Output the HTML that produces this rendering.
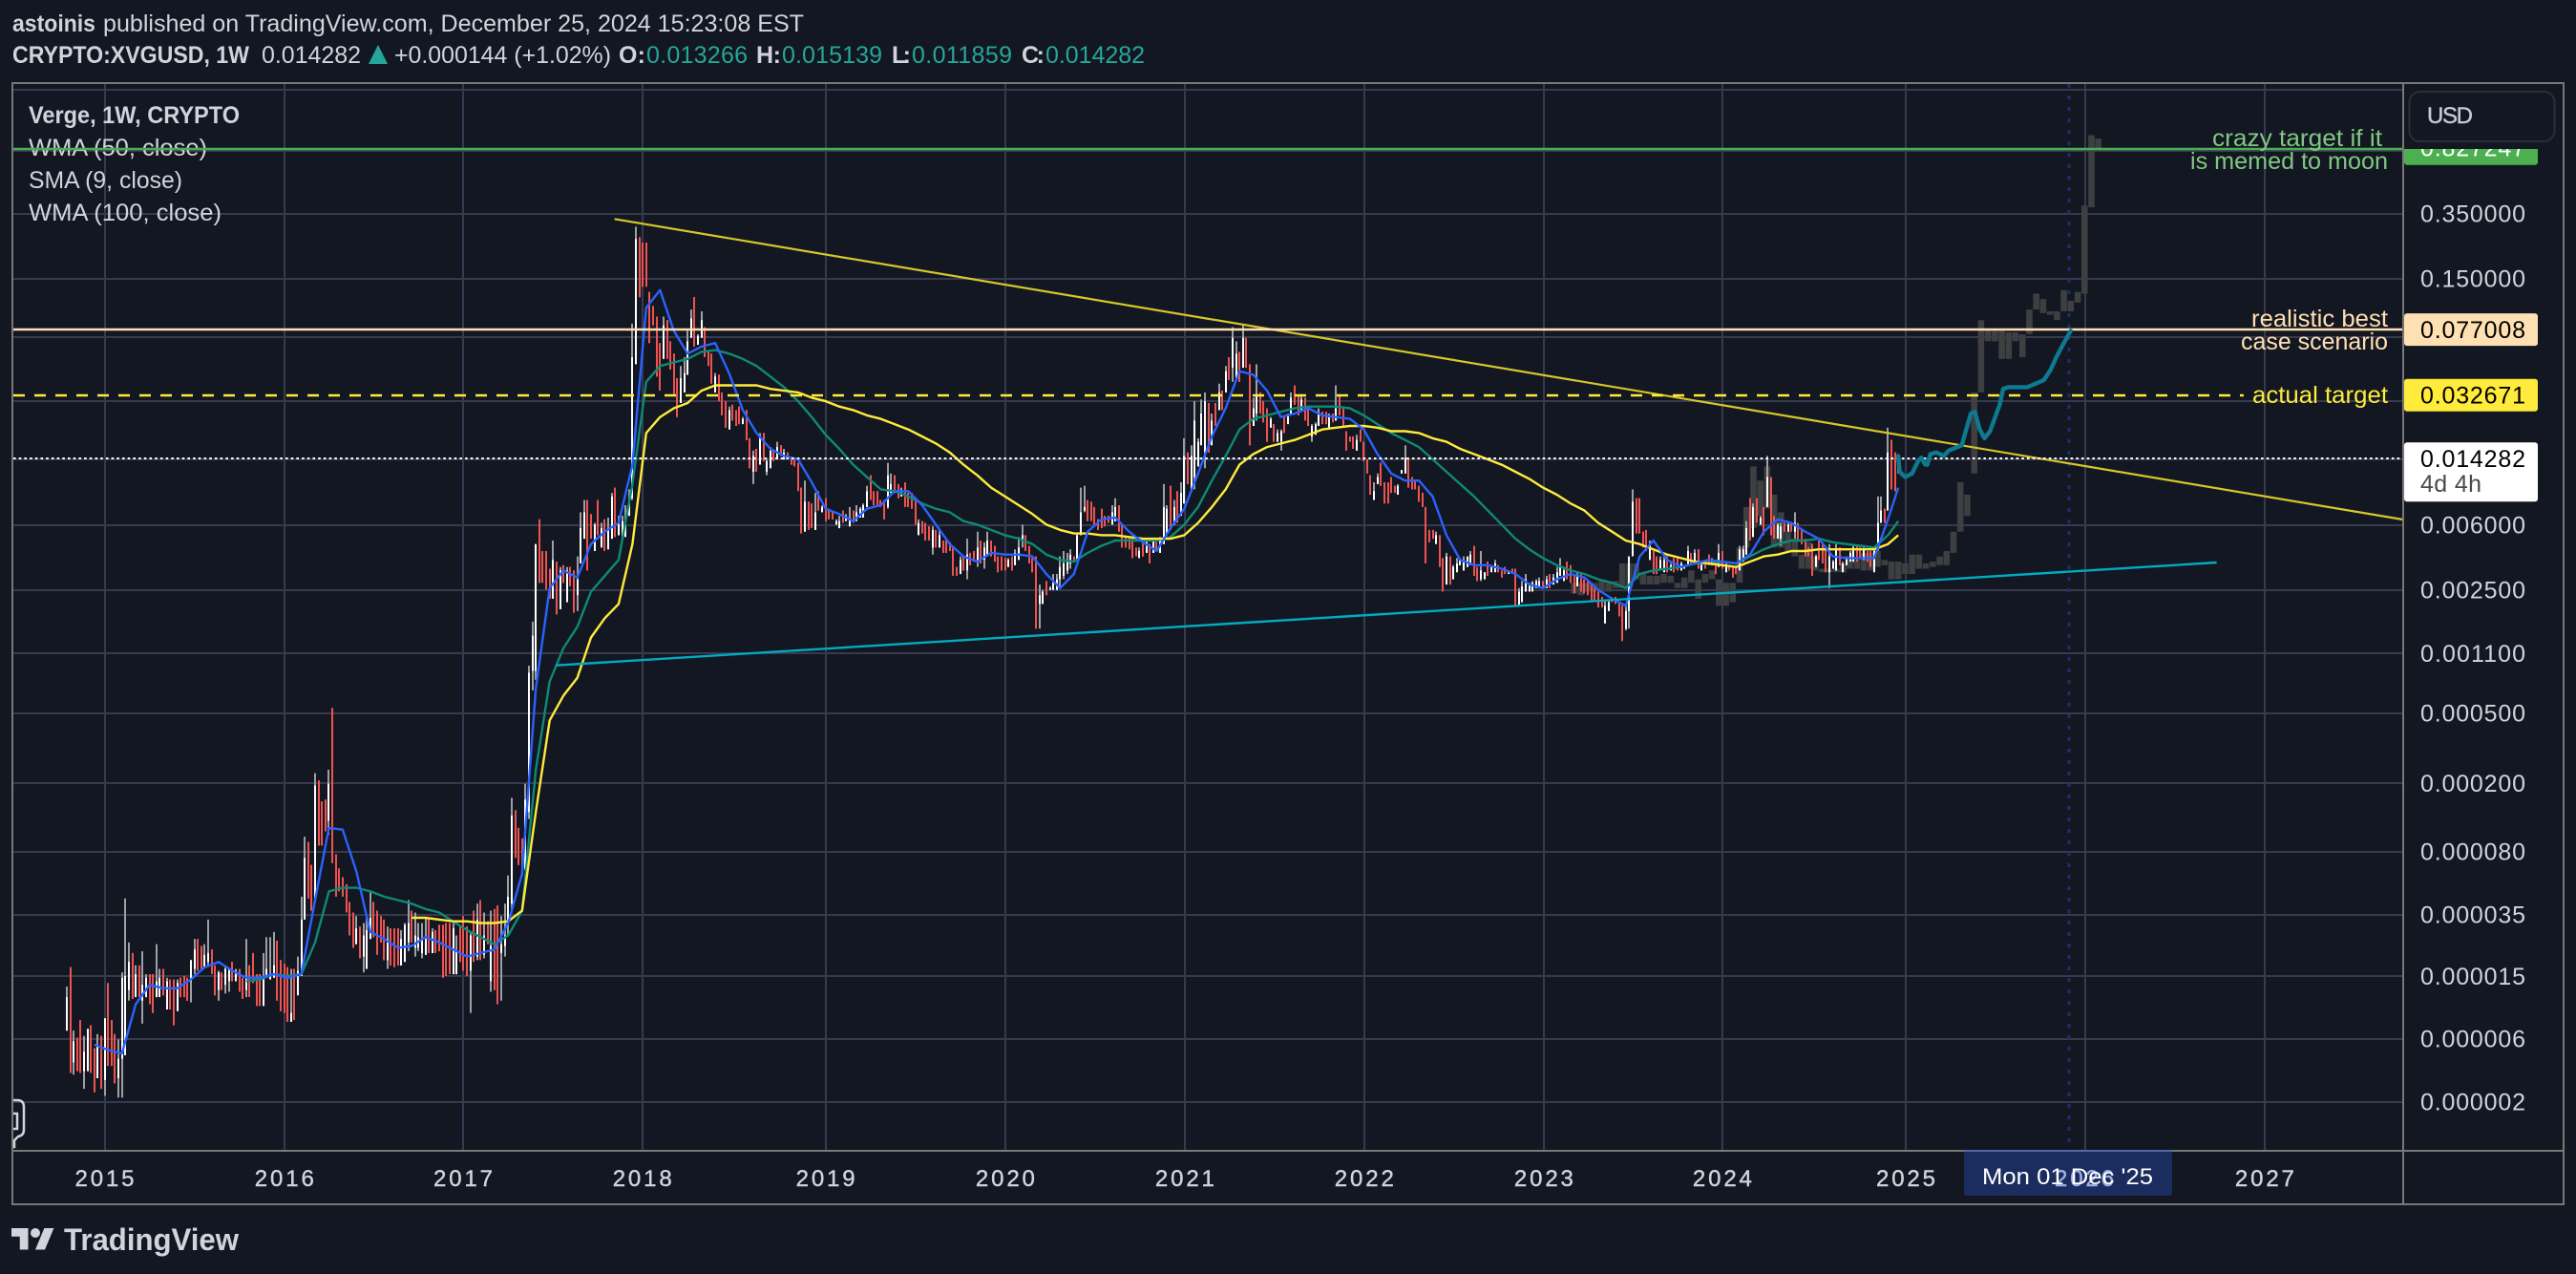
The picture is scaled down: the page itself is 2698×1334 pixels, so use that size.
<!DOCTYPE html>
<html lang="en">
<head>
<meta charset="utf-8">
<title>CRYPTO:XVGUSD, 1W</title>
<style>
html,body{margin:0;padding:0;background:#131722;width:2698px;height:1334px;overflow:hidden}
svg{display:block;font-family:"Liberation Sans",sans-serif}
</style>
</head>
<body>
<svg id="chart" xmlns="http://www.w3.org/2000/svg" width="2698" height="1334" viewBox="0 0 2698 1334">
<defs>
<clipPath id="pane-clip"><rect x="14" y="88" width="2503" height="1117"/></clipPath>
<clipPath id="axis-clip"><rect x="2518" y="156" width="166" height="1049"/></clipPath>
</defs>
<rect width="2698" height="1334" fill="#131722"/>

<g font-size="25" fill="#d1d4dc">
<text x="13" y="33" font-weight="bold" textLength="87" lengthAdjust="spacingAndGlyphs">astoinis</text>
<text x="108" y="33" textLength="734" lengthAdjust="spacingAndGlyphs">published on TradingView.com, December 25, 2024 15:23:08 EST</text>
<text x="13" y="66" font-weight="bold" textLength="248" lengthAdjust="spacingAndGlyphs">CRYPTO:XVGUSD, 1W</text>
<text x="274" y="66" textLength="104">0.014282</text>
<polygon points="396,47 406,67 386,67" fill="#26a69a"/>
<text x="413" y="66" textLength="227" lengthAdjust="spacingAndGlyphs">+0.000144 (+1.02%)</text>
<text x="648" y="66" font-weight="bold" textLength="28">O:</text>
<text x="677" y="66" fill="#26a69a" textLength="106">0.013266</text>
<text x="792" y="66" font-weight="bold" textLength="26">H:</text>
<text x="819" y="66" fill="#26a69a" textLength="105">0.015139</text>
<text x="934" y="66" font-weight="bold" textLength="20">L:</text>
<text x="955" y="66" fill="#26a69a" textLength="105">0.011859</text>
<text x="1070" y="66" font-weight="bold" textLength="24">C:</text>
<text x="1095" y="66" fill="#26a69a" textLength="104">0.014282</text>
</g>

<g id="grid"></g>

<g font-size="25" fill="#d1d4dc">
<text x="30" y="129" font-weight="bold" textLength="221" lengthAdjust="spacingAndGlyphs">Verge, 1W, CRYPTO</text>
<text x="30" y="163" textLength="187" lengthAdjust="spacingAndGlyphs">WMA (50, close)</text>
<text x="30" y="197" textLength="161" lengthAdjust="spacingAndGlyphs">SMA (9, close)</text>
<text x="30" y="231" textLength="202" lengthAdjust="spacingAndGlyphs">WMA (100, close)</text>
</g>

<g id="plot" clip-path="url(#pane-clip)"></g>

<g font-size="25">
<text x="2317" y="153" fill="#81c784" textLength="178" lengthAdjust="spacingAndGlyphs">crazy target if it</text>
<text x="2294" y="177" fill="#81c784" textLength="207" lengthAdjust="spacingAndGlyphs">is memed to moon</text>
<text x="2358" y="342" fill="#ffe0b2" textLength="143" lengthAdjust="spacingAndGlyphs">realistic best</text>
<text x="2347" y="366" fill="#ffe0b2" textLength="154" lengthAdjust="spacingAndGlyphs">case scenario</text>
<text x="2359" y="422" fill="#ffeb3b" textLength="142" lengthAdjust="spacingAndGlyphs">actual target</text>
</g>

<g id="axis-labels"></g>
<g id="time-labels"></g>

<rect x="2057" y="1205" width="218" height="47" rx="3" fill="#1b2c5e"/>
<rect x="2057" y="1204" width="218" height="2" fill="#5368a5"/>
<text x="2152" y="1242" font-size="24" fill="#9db0e4" stroke="#9db0e4" stroke-width="0.4" textLength="62">2026</text>
<text x="2076" y="1240" font-size="24" fill="#ffffff" textLength="179" lengthAdjust="spacingAndGlyphs">Mon 01 Dec '25</text>

<g fill="none" stroke="#787878" stroke-width="2">
<rect x="13" y="87" width="2672" height="1174"/>
<line x1="2517" y1="87" x2="2517" y2="1261"/>
<line x1="13" y1="1205" x2="2057" y2="1205"/>
<line x1="2275" y1="1205" x2="2685" y2="1205"/>
</g>

<g>
<rect x="2523.5" y="96" width="152" height="52" rx="11" fill="#131722" stroke="#2a2e39" stroke-width="2"/>
<text x="2542" y="129" font-size="24" fill="#c6cad6" stroke="#c6cad6" stroke-width="0.4" textLength="48">USD</text>
</g>

<path d="M14 1152 h4 q7 0 7 7 v24 q0 6 -6 7 l-4 4 v7 h-1 M14 1166 h4 v16 h-4" fill="none" stroke="#d1d4dc" stroke-width="2.5"/>

<g>
<g transform="translate(12 1281) scale(1.25)" fill="#d1d4dc">
<path d="M14 22H7V11H0V4h14v18zM28 22h-8l7.5-18h8L28 22z"/>
<circle cx="20" cy="8" r="4"/>
</g>
<text x="67" y="1309" font-size="32" font-weight="bold" fill="#d1d4dc" textLength="183" lengthAdjust="spacingAndGlyphs">TradingView</text>
</g>
</svg>

<script>
// All series values are stored as v = -100 * log10(price), so price = 10^(-v/100).
const highValues = [
484,473,509,513,503,512,508,506,519,511,512,502,482,503,511,514,476,434,459,465,
472,472,464,477,477,477,460,474,474,479,480,480,480,479,478,479,469,457,457,461,
460,446,463,472,475,476,472,474,470,474,474,479,457,472,465,477,477,465,456,456,
453,458,469,471,473,474,474,467,433,399,402,415,363,367,379,378,361,326,409,417,
422,426,436,442,444,450,448,444,430,436,441,444,446,450,451,451,451,452,448,435,
441,442,448,448,445,445,451,452,449,449,448,448,448,455,450,444,450,453,441,437,
435,442,447,441,440,438,444,437,421,377,384,394,400,369,302,277,233,219,237,237,
247,231,243,246,245,246,246,248,240,215,208,208,216,221,208,221,219,218,204,201,
217,217,211,202,108,53,59,62,62,90,98,104,119,104,106,118,125,139,132,127,
112,100,93,114,101,110,123,125,136,137,147,152,155,154,157,155,161,157,173,180,
179,170,170,185,178,180,175,177,179,181,184,184,187,201,197,209,210,204,203,211,
207,213,214,219,217,214,216,212,214,211,212,210,200,194,203,203,208,208,187,193,
194,199,201,198,204,204,207,219,220,221,223,223,225,225,231,231,232,235,246,240,
240,230,238,237,226,231,232,226,231,234,240,240,241,241,240,236,229,222,228,234,
241,240,256,259,254,257,250,250,240,237,238,236,240,227,201,200,208,209,212,219,
213,217,217,211,207,211,222,229,229,230,235,235,231,231,233,230,231,229,199,211,
200,208,203,198,173,181,177,152,173,151,147,153,159,153,142,146,132,127,110,118,
124,108,116,131,150,131,147,152,156,161,165,168,168,161,159,147,143,149,148,150,
155,165,164,156,158,158,159,159,143,149,156,169,172,172,171,168,175,185,194,198,
193,187,198,198,195,200,199,191,177,184,195,197,200,204,212,225,225,226,228,241,
238,240,245,241,241,240,240,237,234,246,237,249,243,245,242,245,248,246,249,247,
247,258,254,250,255,254,253,252,254,251,250,250,246,241,246,243,245,250,249,250,
253,254,255,258,260,263,265,265,263,263,266,268,268,240,202,207,207,226,225,231,
237,240,240,239,240,244,241,240,243,245,234,238,236,236,243,242,239,241,242,233,
237,244,246,246,246,234,234,220,207,210,207,217,212,183,195,217,221,221,221,221,
221,215,221,225,230,235,233,239,231,233,234,233,242,233,235,243,240,237,233,234,
235,235,237,237,235,206,206,213,167,174,181,182];

const lowValues = [
509,533,534,532,533,542,532,533,544,536,542,546,529,529,539,547,547,523,492,491,
490,490,505,490,494,499,490,490,489,497,497,506,498,490,490,492,493,477,475,474,
473,473,477,489,492,486,488,487,481,481,487,491,490,490,482,495,495,495,479,480,
479,492,498,499,504,504,503,489,478,446,434,441,436,404,404,396,398,414,433,430,
433,442,455,462,460,468,476,474,457,456,466,459,469,474,472,473,472,472,470,464,
459,467,464,468,466,465,465,465,464,479,478,477,477,477,470,475,478,499,470,469,
469,468,460,487,486,494,492,467,455,440,411,415,421,418,389,316,310,255,255,259,
264,264,273,270,255,266,257,272,271,244,230,248,230,237,228,235,237,236,230,229,
228,230,229,217,208,131,93,87,87,119,109,138,146,128,128,134,148,161,153,147,
137,116,121,120,116,127,132,142,147,152,160,167,168,163,166,165,165,174,190,199,
192,188,186,194,190,186,185,183,185,184,188,189,203,227,226,225,224,225,214,215,
220,219,219,222,224,221,220,223,221,220,218,218,212,208,211,212,212,219,213,204,
204,207,206,212,212,213,222,228,227,231,231,239,235,235,238,238,237,251,251,250,
248,253,245,243,246,244,247,240,240,243,249,248,248,246,248,245,242,235,237,244,
249,281,281,267,262,259,259,259,258,253,250,247,243,242,228,215,220,220,222,225,
224,223,221,222,220,226,235,235,236,241,240,241,240,238,244,238,237,238,233,227,
225,222,221,217,210,199,203,202,189,177,190,181,177,166,157,157,147,140,141,139,
141,133,133,177,166,163,159,164,175,167,175,175,180,170,165,159,154,160,157,163,
166,175,171,166,165,165,168,164,163,160,167,180,175,179,180,175,186,193,205,208,
199,200,210,210,204,204,205,193,193,201,202,202,209,212,244,232,230,233,246,260,
256,256,253,249,245,248,246,245,251,254,254,253,251,249,249,249,252,250,250,249,
268,268,266,260,260,260,258,258,258,258,258,256,255,251,254,253,255,261,257,260,
261,262,265,265,269,269,278,271,266,267,274,288,282,281,240,227,227,235,237,242,
250,250,247,249,249,248,249,248,248,247,245,244,244,247,248,247,245,245,250,246,
247,249,248,252,250,248,243,239,231,229,221,222,228,212,228,230,230,234,226,226,
226,230,231,233,240,240,251,246,242,244,249,258,247,248,245,249,245,243,243,243,
241,242,243,246,249,237,221,221,214,202,203,193];

const openValues = [
509,473,527,513,503,532,532,506,519,536,512,537,482,503,511,536,525,523,486,465,
490,472,492,490,477,477,490,490,474,497,480,480,498,479,478,479,481,474,457,461,
473,470,463,472,486,476,483,481,470,481,474,479,486,472,465,477,477,495,479,480,
479,458,469,471,473,504,474,489,478,446,402,415,436,367,379,378,390,326,409,417,
422,426,436,442,460,450,467,474,457,436,441,444,446,469,451,451,451,472,470,459,
441,462,462,465,466,445,465,452,449,449,448,448,477,477,450,444,450,475,441,467,
435,466,447,481,440,438,465,461,446,437,384,394,400,417,385,305,305,219,237,237,
247,264,243,270,245,266,246,248,262,244,230,208,216,237,208,235,219,236,230,201,
228,230,229,217,207,131,59,62,62,90,98,104,119,128,106,118,125,139,153,147,
137,116,93,120,116,110,123,125,147,137,147,152,168,154,157,155,165,157,173,192,
179,188,170,192,190,180,185,177,185,181,184,184,187,201,226,209,210,225,203,215,
207,213,214,222,224,214,220,223,214,220,218,218,212,194,203,203,208,208,212,204,
194,199,206,198,204,204,207,228,220,221,223,235,225,235,231,231,232,235,246,250,
240,248,238,237,243,231,242,240,231,234,240,240,241,246,240,245,242,231,228,234,
241,240,267,267,254,259,259,259,253,251,248,244,240,242,228,214,208,209,212,219,
213,217,217,222,220,211,222,229,229,230,235,241,231,238,233,238,231,238,233,227,
200,222,203,217,210,181,203,195,189,177,181,153,177,153,157,146,147,127,133,139,
124,133,116,131,166,159,147,152,156,167,165,175,175,161,165,159,143,149,157,150,
155,172,171,166,158,158,168,159,163,149,156,169,172,172,180,168,175,185,194,208,
199,187,198,198,195,200,205,193,193,184,195,197,200,204,212,225,225,233,228,241,
256,240,253,249,245,248,246,245,234,246,253,253,243,249,249,245,248,246,250,247,
247,268,266,260,260,260,258,258,254,258,250,256,255,251,254,243,245,250,257,250,
253,254,255,258,260,263,278,271,263,263,266,268,281,271,240,207,207,226,225,242,
237,240,247,249,240,248,241,240,248,247,245,238,244,236,248,242,239,245,242,246,
237,249,246,246,246,248,243,239,207,229,207,222,212,212,195,217,230,230,221,226,
221,226,221,225,230,235,233,246,231,233,234,249,247,248,235,249,245,243,243,234,
235,242,237,237,249,235,221,213,214,174,181,188];

const closeValues = [
490,533,515,532,533,521,508,533,544,517,542,502,529,529,539,525,479,478,470,491,
477,490,483,479,494,499,481,479,489,481,497,506,482,490,490,492,469,463,475,474,
466,465,477,489,476,486,474,474,481,475,487,491,479,490,482,495,495,479,474,477,
472,492,498,499,504,499,503,475,446,411,434,441,370,404,404,396,369,414,433,430,
433,442,455,462,451,468,455,452,445,456,466,459,469,457,472,473,472,457,449,448,
459,455,456,457,457,465,453,465,464,479,478,477,451,464,470,475,478,455,470,446,
469,455,460,461,486,494,460,455,433,387,411,415,421,378,306,285,233,255,255,259,
264,242,273,248,255,248,257,272,253,224,215,248,230,222,228,224,237,224,206,229,
220,220,222,208,127,60,93,87,87,119,109,138,146,109,128,134,148,161,139,136,
118,105,121,115,106,127,132,142,138,152,160,167,157,163,166,165,162,174,190,183,
192,172,186,186,180,186,178,183,181,184,188,189,203,227,209,225,224,215,214,212,
220,219,219,220,220,221,217,219,221,215,213,211,203,208,211,212,212,219,194,199,
204,207,203,212,212,213,222,221,227,231,231,225,235,228,238,238,237,251,251,242,
248,239,245,243,235,244,235,231,240,243,249,248,248,242,248,238,235,228,237,244,
249,281,262,260,262,258,255,253,246,244,242,239,243,228,215,212,220,220,222,225,
224,223,221,215,212,226,235,235,236,241,240,237,240,232,244,231,237,231,212,213,
225,212,221,204,183,199,183,163,175,159,152,181,163,166,147,157,135,140,116,125,
141,116,133,177,156,148,159,164,175,162,175,170,169,170,160,150,154,160,151,163,
166,166,165,158,165,165,161,164,156,160,167,180,175,179,174,175,186,193,205,203,
195,200,210,210,204,204,200,191,184,201,202,202,209,212,244,232,230,228,246,260,
240,256,246,244,242,242,240,239,251,254,248,249,251,246,244,249,252,250,249,249,
268,260,257,253,256,255,254,254,258,253,258,252,249,246,248,253,255,261,251,260,
261,262,265,265,269,269,268,266,266,267,274,288,271,240,209,227,227,235,237,233,
250,250,242,242,249,245,249,248,244,245,237,244,238,247,244,247,245,242,250,238,
247,245,248,252,250,236,236,224,231,212,221,218,228,195,228,230,222,223,226,222,
226,221,231,233,240,240,251,240,242,244,249,240,243,236,245,244,241,238,235,243,
241,236,243,246,237,221,214,221,181,202,203,185];

// Indicator readings, one every 4 weeks from their first visible week.
const sma9Start = 8;
const sma9Values = [517,520,522,494,483,485,485,480,473,470,475,479,479,477,479,477,435,394,395,419,453,457,462,461,456,459,463,467,465,463,448,420,315,258,248,252,233,226,221,188,99,89,112,125,121,119,136,157,170,179,183,185,198,213,216,220,213,211,203,203,211,222,233,240,243,238,239,239,240,250,258,250,226,219,218,226,232,237,224,213,193,172,156,135,137,146,161,159,156,160,161,162,168,182,193,197,197,206,228,242,245,245,247,250,256,258,253,250,252,259,264,268,240,231,242,246,244,242,243,244,239,226,219,221,226,230,240,241,241,241,219,201];
const wma50Start = 52;
const wma50Values = [481,480,477,478,477,459,430,428,428,430,433,435,437,440,442,447,452,456,460,455,441,361,311,292,280,260,251,242,199,141,132,130,128,124,123,125,128,132,138,144,152,161,171,179,188,195,202,203,206,210,213,215,220,222,225,228,230,233,239,242,243,238,234,231,231,231,231,229,222,212,197,183,168,162,160,158,156,155,155,155,156,160,165,170,174,178,185,192,199,206,214,222,230,236,241,245,248,250,253,255,258,250,248,247,246,244,244,243,244,240,236,233,231,231,230,232,233,234,235,228,220];
const wma100Start = 100;
const wma100Values = [445,445,446,447,447,448,448,447,441,385,333,319,309,286,275,267,233,170,161,156,153,146,143,143,143,143,145,146,147,150,152,155,157,160,162,165,168,172,176,181,188,194,201,206,211,216,222,225,227,227,228,228,229,230,230,230,228,221,212,202,188,182,178,176,174,171,168,167,166,166,167,169,169,170,173,175,179,182,185,188,192,196,201,205,210,214,221,226,231,233,236,239,241,243,244,245,246,243,240,239,237,237,236,236,236,236,236,233,228];

// Grey projected bars pattern, one column every 2 weeks.
const ghostStart = 437;
const ghostHigh = [255,255,255,255,254,255,254,244,244,244,250,251,251,250,251,255,252,248,253,250,248,253,255,255,235,212,189,197,189,205,215,226,230,239,232,240,247,247,247,244,242,242,238,238,237,242,243,243,244,239,239,244,243,240,237,226,198,205,147,106,111,112,112,113,113,114,100,91,94,101,101,89,95,90,41,1,3];
const ghostLow = [261,262,260,260,260,260,258,258,257,253,256,256,256,255,255,258,258,255,264,255,253,268,268,266,255,235,224,217,213,235,235,237,240,247,247,248,249,249,249,249,247,247,248,248,246,245,253,253,250,250,247,247,246,245,245,238,226,217,193,147,118,118,128,128,118,127,114,100,102,103,106,101,101,96,91,42,10];

// Hand-drawn forecast brush stroke.
const brushWeeks = [531,531.4,533,535,536.7,537.7,538.8,539.4,540.3,542,544.2,545.6,549.4,550.4,552,553.2,554.6,556,557.6,560.4,561.4,562.9,568.4,573.2,575.2,576.8,579,581];
const brushValues = [183,192,195,193,186,184,188,188,182,181,183,180,177,170,159,158,168,173,169,154,145,144,144,140,134,127,119,112];

// Trend lines.
const resistanceWeeks = [158.8,677.3];
const resistanceValues = [48.6,219.1];
const supportWeeks = [141.9,623.3];
const supportValues = [301.8,243.5];

// Horizontal levels in price.
const levelPrices = [0.827247,0.077008,0.032671,0.014282];
const levelTexts = ["0.827247","0.077008","0.032671","0.014282"];

// Axis ticks.
const gridPrices = [1.76,0.794,0.35,0.15,0.07,0.0303,0.0142,0.006,0.00257,0.00112,0.000513,0.000205,0.000084,0.000037,0.0000165,0.0000073,0.0000032];
const priceTickLabels = ["","","0.350000","0.150000","","","","0.006000","0.002500","0.001100","0.000500","0.000200","0.000080","0.000035","0.000015","0.000006","0.000002"];
const yearTickDates = [2015,2015.999,2016.992,2017.988,2019.006,2020.005,2021.002,2021.999,2022.997,2023.989,2025.008,2026.005,2027.002];
const yearTickLabels = ["2015","2016","2017","2018","2019","2020","2021","2022","2023","2024","2025","","2027"];
const crosshairDate = 2024.914 + 1;

const NS = 'http://www.w3.org/2000/svg';
const priceOf = v => Math.pow(10, -v / 100);
const yAxis = price => 223.7 + 184.6 * Math.log10(0.35 / price);
const xAxis = date => 109.5 + 188.5 * (date - 2015);
const weekDate = w => 2014.79 + w * 7 / 365.25;
const xWeek = w => xAxis(weekDate(w));
const yValue = v => yAxis(priceOf(v));

function shape(parent, tag, attrs) {
  const el = document.createElementNS(NS, tag);
  for (const k in attrs) el.setAttribute(k, attrs[k]);
  parent.appendChild(el);
  return el;
}

const gridG = document.getElementById('grid');
const plot = document.getElementById('plot');
const axisG = document.getElementById('axis-labels');
const timeG = document.getElementById('time-labels');

gridPrices.forEach(function (p) {
  const y = Math.round(yAxis(p));
  const line = shape(gridG, 'line', {x1: 14, x2: 2517, y1: y, y2: y, stroke: '#363a4e', 'stroke-width': 2});
  
  
});
yearTickDates.forEach(function (d) {
  const x = Math.round(xAxis(d));
  const line = shape(gridG, 'line', {x1: x, x2: x, y1: 88, y2: 1205, stroke: '#363a4e', 'stroke-width': 2});
  
  
});

const crossLine = shape(plot, 'line', {x1: Math.round(xAxis(crosshairDate)), x2: Math.round(xAxis(crosshairDate)), y1: 88, y2: 1205, stroke: '#1c2f6b', 'stroke-width': 3, 'stroke-dasharray': '4 8'});



const ghostG = shape(plot, 'g', {});


ghostHigh.forEach(function (h, k) {
  const x = xWeek(ghostStart + k * 2);
  const top = yValue(h);
  const bottom = yValue(ghostLow[k]);
  const col = shape(ghostG, 'rect', {x: (x - 3.3).toFixed(1), y: top.toFixed(1), width: 6.6, height: Math.max(2, bottom - top).toFixed(1), fill: '#3d3f40'});
  
  
});

const candleG = shape(plot, 'g', {});


highValues.forEach(function (h, i) {
  const x = Math.round(xWeek(i)) - 1;
  const o = openValues[i];
  const c = closeValues[i];
  const up = priceOf(c) >= priceOf(o);
  const top = yValue(h);
  const bottom = yValue(lowValues[i]);
  const wick = shape(candleG, 'rect', {x: x, y: top.toFixed(1), width: 2, height: Math.max(1, bottom - top).toFixed(1), fill: up ? '#9d9fa3' : '#ef5350'});
  
  
  const bodyTop = yValue(Math.min(o, c));
  const bodyBottom = yValue(Math.max(o, c));
  const body = shape(candleG, 'rect', {x: x, y: bodyTop.toFixed(1), width: 2, height: Math.max(1, bodyBottom - bodyTop).toFixed(1), fill: up ? '#ffffff' : '#ef5350'});
  
  
});

const lastWeek = highValues.length - 1;
function maPath(start, values) {
  return values.map(function (v, k) {
    const w = Math.min(start + k * 4, lastWeek);
    return (k ? 'L' : 'M') + xWeek(w).toFixed(1) + ' ' + yValue(v).toFixed(1);
  }).join('');
}
function drawPath(weeks, values) {
  return values.map(function (v, k) {
    return (k ? 'L' : 'M') + xWeek(weeks[k]).toFixed(1) + ' ' + yValue(v).toFixed(1);
  }).join('');
}

const wma50Line = shape(plot, 'path', {d: maPath(wma50Start, wma50Values), fill: 'none', stroke: '#0d8a75', 'stroke-width': 2.4, 'stroke-linejoin': 'round'});


const wma100Line = shape(plot, 'path', {d: maPath(wma100Start, wma100Values), fill: 'none', stroke: '#ffeb3b', 'stroke-width': 2.4, 'stroke-linejoin': 'round'});


const sma9Line = shape(plot, 'path', {d: maPath(sma9Start, sma9Values), fill: 'none', stroke: '#2962ff', 'stroke-width': 2.4, 'stroke-linejoin': 'round'});



const resistanceLine = shape(plot, 'path', {d: drawPath(resistanceWeeks, resistanceValues), fill: 'none', stroke: '#d8c62a', 'stroke-width': 2.2});


const supportLine = shape(plot, 'path', {d: drawPath(supportWeeks, supportValues), fill: 'none', stroke: '#00acc1', 'stroke-width': 2.4});



const greenY = Math.round(yAxis(levelPrices[0])) + 1;
const greenLine = shape(plot, 'line', {x1: 14, x2: 2517, y1: greenY, y2: greenY, stroke: '#4caf50', 'stroke-width': 2.4});


const peachY = Math.round(yAxis(levelPrices[1]));
const peachLine = shape(plot, 'line', {x1: 14, x2: 2517, y1: peachY, y2: peachY, stroke: '#ffe0b2', 'stroke-width': 2.4});


const goldY = Math.round(yAxis(levelPrices[2]));
const goldLine = shape(plot, 'line', {x1: 14, x2: 2350, y1: goldY, y2: goldY, stroke: '#ffeb3b', 'stroke-width': 2.4, 'stroke-dasharray': '12 10'});


const lastY = Math.round(yAxis(levelPrices[3]));
const lastLine = shape(plot, 'line', {x1: 14, x2: 2517, y1: lastY, y2: lastY, stroke: '#ffffff', 'stroke-width': 2, 'stroke-dasharray': '2.6 3.1'});



const brushLine = shape(plot, 'path', {d: drawPath(brushWeeks, brushValues), fill: 'none', stroke: '#0d7a8f', 'stroke-width': 4.4, 'stroke-linejoin': 'round', 'stroke-linecap': 'round'});



priceTickLabels.forEach(function (label, k) {
  if (!label) return;
  const y = yAxis(gridPrices[k]);
  const t = shape(axisG, 'text', {x: 2535, y: (y + 8.8).toFixed(1), 'font-size': 25, fill: '#d1d4dc', textLength: 110});
  t.textContent = label;
  
  
});

const labelFills = ['#4caf50', '#ffe0b2', '#ffeb3b', '#ffffff'];
const labelColors = ['#ffffff', '#000000', '#000000', '#000000'];
const labelHeights = [34, 34, 34, 62];
levelPrices.forEach(function (p, k) {
  const y = yAxis(p);
  const group = shape(axisG, 'g', {'clip-path': 'url(#axis-clip)'});
  
  
  const box = shape(group, 'rect', {x: 2518, y: (y - 17).toFixed(1), width: 140, height: labelHeights[k] + (k === 0 ? 1 : 0), rx: 3, fill: labelFills[k]});
  
  
  const t = shape(group, 'text', {x: 2535, y: (y + 8.8).toFixed(1), 'font-size': 25, fill: labelColors[k], textLength: 110});
  t.textContent = levelTexts[k];
  
  
});
const countdown = shape(axisG, 'text', {x: 2535, y: 515, 'font-size': 25, fill: '#4a4a4a', textLength: 64});
countdown.textContent = '4d 4h';



yearTickLabels.forEach(function (label, k) {
  if (!label) return;
  const x = xAxis(yearTickDates[k]);
  const t = shape(timeG, 'text', {x: (x - 31).toFixed(1), y: 1242, 'font-size': 24, fill: '#d1d4dc', stroke: '#d1d4dc', 'stroke-width': 0.4, textLength: 62});
  t.textContent = label;
  
  
});
</script>
</body>
</html>
